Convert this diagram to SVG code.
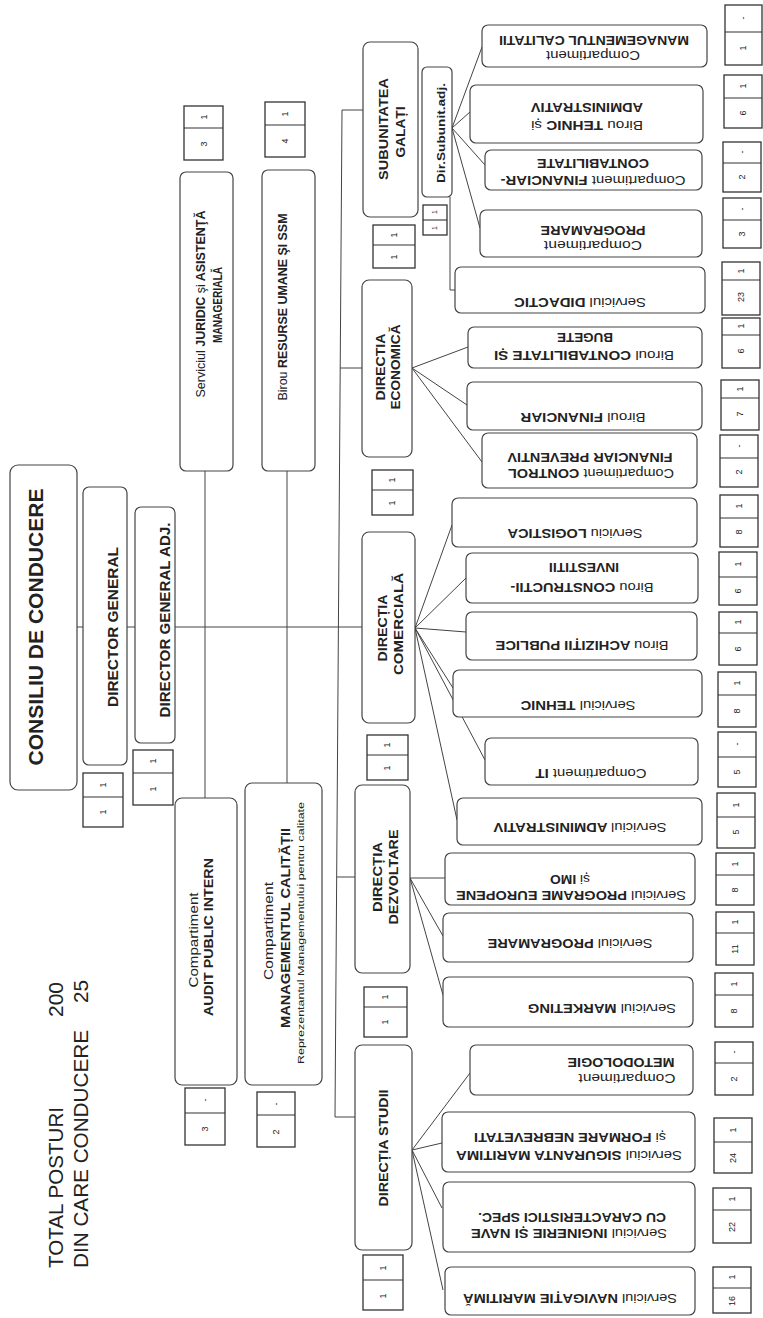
<svg xmlns="http://www.w3.org/2000/svg" width="763" height="1318" viewBox="0 0 763 1318">
<style>
.bx{fill:#fff;stroke:#444;stroke-width:1.2}
.cl{fill:#fff;stroke:#333;stroke-width:1.3}
.dv{stroke:#333;stroke-width:1.1}
.ln{stroke:#444;stroke-width:1;fill:none}
text{font-family:"Liberation Sans",Arial,sans-serif;fill:#222}
.rt{font-size:12px;font-weight:bold;text-anchor:middle}
.lt{font-size:12px;font-weight:bold;text-anchor:middle}
.n{font-weight:normal}
.num{font-size:9px;text-anchor:middle}
.big{font-size:21px;font-weight:bold;text-anchor:middle}
.tot{font-size:21px}
</style>
<rect width="763" height="1318" fill="#fff"/>

<g id="totals">
<text class="tot" transform="translate(63,1268) rotate(-90)" textLength="161" lengthAdjust="spacingAndGlyphs">TOTAL POSTURI</text>
<text class="tot" transform="translate(63,1017) rotate(-90)" textLength="35" lengthAdjust="spacingAndGlyphs">200</text>
<text class="tot" transform="translate(88,1268) rotate(-90)" textLength="238" lengthAdjust="spacingAndGlyphs">DIN CARE CONDUCERE</text>
<text class="tot" transform="translate(88,1003) rotate(-90)" textLength="23" lengthAdjust="spacingAndGlyphs">25</text>
</g>

<g id="connectors">
<line class="ln" x1="77" y1="627" x2="83" y2="627"/>
<line class="ln" x1="127" y1="627" x2="135" y2="627"/>
<line class="ln" x1="175" y1="627" x2="362" y2="627"/>
<line class="ln" x1="205" y1="471" x2="205" y2="798"/>
<line class="ln" x1="287" y1="471" x2="287" y2="783"/>
<line class="ln" x1="342" y1="110" x2="335" y2="1117"/>
<line class="ln" x1="342" y1="110" x2="363" y2="110"/>
<line class="ln" x1="340" y1="368" x2="362" y2="368"/>
<line class="ln" x1="337" y1="877" x2="355" y2="877"/>
<line class="ln" x1="335" y1="1117" x2="355" y2="1117"/>
<path class="ln" d="M452,128 L482,47 M452,128 L470,112 M452,128 L485,165 M452,128 L480,228"/>
<path class="ln" d="M450,197 L450,290 L455,290"/>
<path class="ln" d="M412,368 L468,347 M412,368 L467,405 M412,368 L482,462"/>
<path class="ln" d="M415,628 L452,525 M415,628 L466,578 M415,628 L466,632 M415,628 L453,688 M415,628 L485,760 M415,628 L457,820"/>
<path class="ln" d="M410,878 L445,878 M410,878 L443,936 M410,878 L443,995"/>
<path class="ln" d="M412,1150 L470,1073 M412,1150 L442,1143 M412,1150 L442,1208 M412,1150 L443,1290"/>
</g>

<g id="consiliu">
<rect class="bx" x="10" y="465" width="67" height="325" rx="8"/>
<text class="big" transform="translate(43,627) rotate(-90)" textLength="277" lengthAdjust="spacingAndGlyphs">CONSILIU DE CONDUCERE</text>
</g>
<g id="director-general">
<rect class="bx" x="83" y="487" width="44" height="278" rx="6"/>
<text class="lt" style="font-size:14px" transform="translate(118,627) rotate(-90)" textLength="160" lengthAdjust="spacingAndGlyphs">DIRECTOR GENERAL</text>
<rect class="cl" x="83" y="773" width="40" height="54"/><line class="dv" x1="83" y1="797" x2="123" y2="797"/>
<text class="num" transform="translate(106,785) rotate(-90)">1</text><text class="num" transform="translate(106,812) rotate(-90)">1</text>
</g>
<g id="director-general-adj">
<rect class="bx" x="135" y="507" width="40" height="236" rx="6"/>
<text class="lt" style="font-size:14px" transform="translate(170,620) rotate(-90)" textLength="195" lengthAdjust="spacingAndGlyphs">DIRECTOR GENERAL ADJ.</text>
<rect class="cl" x="133" y="750" width="40" height="55"/><line class="dv" x1="133" y1="773" x2="173" y2="773"/>
<text class="num" transform="translate(156,761) rotate(-90)">1</text><text class="num" transform="translate(156,789) rotate(-90)">1</text>
</g>

<g id="juridic">
<rect class="bx" x="180" y="172" width="53" height="299" rx="6"/>
<text class="lt" transform="translate(205,304) rotate(-90)" textLength="187" lengthAdjust="spacingAndGlyphs"><tspan class="n">Serviciul</tspan>  JURIDIC <tspan class="n">şi</tspan> ASISTENŢĂ</text>
<text class="lt" transform="translate(222,305) rotate(-90)" textLength="76" lengthAdjust="spacingAndGlyphs">MANAGERIALĂ</text>
<rect class="cl" x="184" y="106" width="39" height="54"/><line class="dv" x1="184" y1="128" x2="223" y2="128"/>
<text class="num" transform="translate(207,117) rotate(-90)">1</text><text class="num" transform="translate(207,144) rotate(-90)">3</text>
</g>
<g id="resurse-umane">
<rect class="bx" x="262" y="170" width="53" height="301" rx="6"/>
<text class="lt" transform="translate(287,307) rotate(-90)" textLength="187" lengthAdjust="spacingAndGlyphs"><tspan class="n">Birou</tspan> RESURSE UMANE ŞI SSM</text>
<rect class="cl" x="265" y="102" width="40" height="55"/><line class="dv" x1="265" y1="125" x2="305" y2="125"/>
<text class="num" transform="translate(288,114) rotate(-90)">1</text><text class="num" transform="translate(288,141) rotate(-90)">4</text>
</g>
<g id="audit">
<rect class="bx" x="175" y="798" width="62" height="287" rx="7"/>
<text class="lt n" transform="translate(198,940) rotate(-90)" textLength="95" lengthAdjust="spacingAndGlyphs">Compartiment</text>
<text class="lt" transform="translate(213,937) rotate(-90)" textLength="158" lengthAdjust="spacingAndGlyphs">AUDIT PUBLIC INTERN</text>
<rect class="cl" x="185" y="1088" width="40" height="57"/><line class="dv" x1="185" y1="1113" x2="225" y2="1113"/>
<text class="num" transform="translate(208,1100) rotate(-90)">-</text><text class="num" transform="translate(208,1129) rotate(-90)">3</text>
</g>
<g id="management-calitate">
<rect class="bx" x="245" y="783" width="77" height="302" rx="7"/>
<text class="lt n" transform="translate(273,931) rotate(-90)" textLength="98" lengthAdjust="spacingAndGlyphs">Compartiment</text>
<text class="lt" transform="translate(290,928) rotate(-90)" textLength="200" lengthAdjust="spacingAndGlyphs">MANAGEMENTUL CALITĂȚII</text>
<text class="lt n" style="font-size:9px" transform="translate(304,933) rotate(-90)" textLength="262" lengthAdjust="spacingAndGlyphs">Reprezentantul Managementului pentru calitate</text>
<rect class="cl" x="257" y="1092" width="38" height="55"/><line class="dv" x1="257" y1="1115" x2="295" y2="1115"/>
<text class="num" transform="translate(279,1104) rotate(-90)">-</text><text class="num" transform="translate(279,1132) rotate(-90)">2</text>
</g>

<g id="subunitatea-galati">
<rect class="bx" x="363" y="42" width="55" height="175" rx="7"/>
<text class="lt" transform="translate(388,129) rotate(-90)" textLength="102" lengthAdjust="spacingAndGlyphs">SUBUNITATEA</text>
<text class="lt" transform="translate(405,132) rotate(-90)" textLength="51" lengthAdjust="spacingAndGlyphs">GALAȚI</text>
<rect class="cl" x="373" y="225" width="42" height="43"/><line class="dv" x1="373" y1="245" x2="415" y2="245"/>
<text class="num" transform="translate(397,235) rotate(-90)">1</text><text class="num" transform="translate(397,257) rotate(-90)">1</text>
</g>
<g id="dir-subunit-adj">
<rect class="bx" x="422" y="67" width="30" height="130" rx="5"/>
<text class="lt" style="font-size:10px" transform="translate(445,133) rotate(-90)" textLength="100" lengthAdjust="spacingAndGlyphs">Dir.Subunit.adj.</text>
<rect class="cl" x="423" y="205" width="24" height="30"/><line class="dv" x1="423" y1="220" x2="447" y2="220"/>
<text class="num" style="font-size:7px" transform="translate(437,212) rotate(-90)">1</text><text class="num" style="font-size:7px" transform="translate(437,228) rotate(-90)">1</text>
</g>
<g id="directia-economica">
<rect class="bx" x="362" y="280" width="50" height="177" rx="7"/>
<text class="lt" transform="translate(385,367) rotate(-90)" textLength="67" lengthAdjust="spacingAndGlyphs">DIRECTIA</text>
<text class="lt" transform="translate(400,367) rotate(-90)" textLength="85" lengthAdjust="spacingAndGlyphs">ECONOMICĂ</text>
<rect class="cl" x="372" y="470" width="41" height="45"/><line class="dv" x1="372" y1="490" x2="413" y2="490"/>
<text class="num" transform="translate(395,480) rotate(-90)">1</text><text class="num" transform="translate(395,503) rotate(-90)">1</text>
</g>
<g id="directia-comerciala">
<rect class="bx" x="362" y="532" width="53" height="191" rx="7"/>
<text class="lt" transform="translate(387,628) rotate(-90)" textLength="67" lengthAdjust="spacingAndGlyphs">DIRECȚIA</text>
<text class="lt" transform="translate(403,624) rotate(-90)" textLength="102" lengthAdjust="spacingAndGlyphs">COMERCIALĂ</text>
<rect class="cl" x="367" y="735" width="41" height="45"/><line class="dv" x1="367" y1="755" x2="408" y2="755"/>
<text class="num" transform="translate(390,745) rotate(-90)">1</text><text class="num" transform="translate(390,768) rotate(-90)">1</text>
</g>
<g id="directia-dezvoltare">
<rect class="bx" x="355" y="785" width="55" height="188" rx="7"/>
<text class="lt" transform="translate(382,877) rotate(-90)" textLength="70" lengthAdjust="spacingAndGlyphs">DIRECȚIA</text>
<text class="lt" transform="translate(398,877) rotate(-90)" textLength="95" lengthAdjust="spacingAndGlyphs">DEZVOLTARE</text>
<rect class="cl" x="364" y="987" width="43" height="50"/><line class="dv" x1="364" y1="1007" x2="407" y2="1007"/>
<text class="num" transform="translate(388,997) rotate(-90)">1</text><text class="num" transform="translate(388,1022) rotate(-90)">1</text>
</g>
<g id="directia-studii">
<rect class="bx" x="355" y="1045" width="57" height="205" rx="7"/>
<text class="lt" transform="translate(388,1148) rotate(-90)" textLength="117" lengthAdjust="spacingAndGlyphs">DIRECȚIA STUDII</text>
<rect class="cl" x="363" y="1255" width="40" height="55"/><line class="dv" x1="363" y1="1280" x2="403" y2="1280"/>
<text class="num" transform="translate(386,1268) rotate(-90)">1</text><text class="num" transform="translate(386,1296) rotate(-90)">1</text>
</g>

<g id="r-management-calitatii">
<rect class="bx" x="482" y="25" width="225" height="42" rx="6"/>
<text class="rt n" transform="translate(593,50.5) rotate(180)" textLength="94" lengthAdjust="spacingAndGlyphs">Compartiment</text>
<text class="rt" transform="translate(594,35.5) rotate(180)" textLength="190" lengthAdjust="spacingAndGlyphs">MANAGEMENTUL CALITATII</text>
</g>
<g id="r-tehnic-administrativ">
<rect class="bx" x="470" y="85" width="233" height="58" rx="6"/>
<text class="rt" transform="translate(587,120.5) rotate(180)" textLength="112" lengthAdjust="spacingAndGlyphs"><tspan class="n">Birou</tspan> TEHNIC  <tspan class="n">și</tspan></text>
<text class="rt" transform="translate(587,102.5) rotate(180)" textLength="112" lengthAdjust="spacingAndGlyphs">ADMINISTRATIV</text>
</g>
<g id="r-financiar-contabilitate">
<rect class="bx" x="485" y="150" width="217" height="40" rx="6"/>
<text class="rt" transform="translate(593,175.5) rotate(180)" textLength="185" lengthAdjust="spacingAndGlyphs"><tspan class="n">Compartiment</tspan> FINANCIAR-</text>
<text class="rt" transform="translate(593,158.5) rotate(180)" textLength="112" lengthAdjust="spacingAndGlyphs">CONTABILITATE</text>
</g>
<g id="r-comp-programare">
<rect class="bx" x="480" y="210" width="222" height="47" rx="6"/>
<text class="rt n" transform="translate(593,240.5) rotate(180)" textLength="98" lengthAdjust="spacingAndGlyphs">Compartiment</text>
<text class="rt" transform="translate(593,225.5) rotate(180)" textLength="105" lengthAdjust="spacingAndGlyphs">PROGRAMARE</text>
</g>
<g id="r-didactic">
<rect class="bx" x="455" y="267" width="250" height="46" rx="6"/>
<text class="rt" transform="translate(580,297.5) rotate(180)" textLength="132" lengthAdjust="spacingAndGlyphs"><tspan class="n">Serviciul</tspan> DIDACTIC</text>
</g>
<g id="r-contabilitate-bugete">
<rect class="bx" x="468" y="327" width="234" height="41" rx="6"/>
<text class="rt" transform="translate(584,350.5) rotate(180)" textLength="180" lengthAdjust="spacingAndGlyphs"><tspan class="n">Biroul</tspan> CONTABILITATE ȘI</text>
<text class="rt" transform="translate(585,332.5) rotate(180)" textLength="56" lengthAdjust="spacingAndGlyphs">BUGETE</text>
</g>
<g id="r-financiar">
<rect class="bx" x="467" y="382" width="235" height="48" rx="6"/>
<text class="rt" transform="translate(583,412.5) rotate(180)" textLength="125" lengthAdjust="spacingAndGlyphs"><tspan class="n">Biroul</tspan>  FINANCIAR</text>
</g>
<g id="r-control-financiar">
<rect class="bx" x="482" y="433" width="215" height="55" rx="6"/>
<text class="rt" transform="translate(591,468.5) rotate(180)" textLength="166" lengthAdjust="spacingAndGlyphs"><tspan class="n">Compartiment</tspan> CONTROL</text>
<text class="rt" transform="translate(590,452.5) rotate(180)" textLength="165" lengthAdjust="spacingAndGlyphs">FINANCIAR PREVENTIV</text>
</g>
<g id="r-logistica">
<rect class="bx" x="452" y="498" width="245" height="49" rx="6"/>
<text class="rt" transform="translate(575,528.5) rotate(180)" textLength="135" lengthAdjust="spacingAndGlyphs"><tspan class="n">Serviciu</tspan> LOGISTICA</text>
</g>
<g id="r-constructii">
<rect class="bx" x="466" y="553" width="232" height="50" rx="6"/>
<text class="rt" transform="translate(582,582.5) rotate(180)" textLength="143" lengthAdjust="spacingAndGlyphs"><tspan class="n">Birou</tspan> CONSTRUCTII-</text>
<text class="rt" transform="translate(584,562.5) rotate(180)" textLength="70" lengthAdjust="spacingAndGlyphs">INVESTITII</text>
</g>
<g id="r-achizitii">
<rect class="bx" x="466" y="612" width="231" height="48" rx="6"/>
<text class="rt" transform="translate(582,640.5) rotate(180)" textLength="173" lengthAdjust="spacingAndGlyphs"><tspan class="n">Birou</tspan>  ACHIZIȚII PUBLICE</text>
</g>
<g id="r-tehnic">
<rect class="bx" x="453" y="670" width="249" height="47" rx="6"/>
<text class="rt" transform="translate(578,700.5) rotate(180)" textLength="115" lengthAdjust="spacingAndGlyphs"><tspan class="n">Serviciul</tspan> TEHNIC</text>
</g>
<g id="r-it">
<rect class="bx" x="485" y="738" width="213" height="47" rx="6"/>
<text class="rt" transform="translate(591,768.5) rotate(180)" textLength="111" lengthAdjust="spacingAndGlyphs"><tspan class="n">Compartiment</tspan> IT</text>
</g>
<g id="r-administrativ">
<rect class="bx" x="457" y="798" width="245" height="47" rx="6"/>
<text class="rt" transform="translate(580,822.5) rotate(180)" textLength="173" lengthAdjust="spacingAndGlyphs"><tspan class="n">Serviciul</tspan> ADMINISTRATIV</text>
</g>
<g id="r-programe-europene">
<rect class="bx" x="445" y="853" width="250" height="52" rx="6"/>
<text class="rt" transform="translate(571,890.5) rotate(180)" textLength="230" lengthAdjust="spacingAndGlyphs"><tspan class="n">Serviciul</tspan> PROGRAME EUROPENE</text>
<text class="rt" transform="translate(570,874.5) rotate(180)" textLength="40" lengthAdjust="spacingAndGlyphs"><tspan class="n">și</tspan> IMO</text>
</g>
<g id="r-programare">
<rect class="bx" x="443" y="913" width="250" height="49" rx="6"/>
<text class="rt" transform="translate(570,938.5) rotate(180)" textLength="165" lengthAdjust="spacingAndGlyphs"><tspan class="n">Serviciul</tspan> PROGRAMARE</text>
</g>
<g id="r-marketing">
<rect class="bx" x="443" y="977" width="250" height="50" rx="6"/>
<text class="rt" transform="translate(602,1003.5) rotate(180)" textLength="148" lengthAdjust="spacingAndGlyphs"><tspan class="n">Serviciul</tspan> MARKETING</text>
</g>
<g id="r-metodologie">
<rect class="bx" x="470" y="1045" width="223" height="50" rx="6"/>
<text class="rt n" transform="translate(627,1073.5) rotate(180)" textLength="97" lengthAdjust="spacingAndGlyphs">Compartiment</text>
<text class="rt" transform="translate(621,1057.5) rotate(180)" textLength="107" lengthAdjust="spacingAndGlyphs">METODOLOGIE</text>
</g>
<g id="r-siguranta-maritima">
<rect class="bx" x="442" y="1112" width="253" height="60" rx="6"/>
<text class="rt" transform="translate(569,1150.5) rotate(180)" textLength="226" lengthAdjust="spacingAndGlyphs"><tspan class="n">Serviciul</tspan>  SIGURANTA MARITIMA</text>
<text class="rt" transform="translate(570,1132.5) rotate(180)" textLength="192" lengthAdjust="spacingAndGlyphs"><tspan class="n">și</tspan> FORMARE NEBREVETATI</text>
</g>
<g id="r-inginerie-nave">
<rect class="bx" x="443" y="1182" width="252" height="70" rx="6"/>
<text class="rt" transform="translate(569,1228.5) rotate(180)" textLength="196" lengthAdjust="spacingAndGlyphs"><tspan class="n">Serviciul</tspan> INGINERIE ȘI NAVE</text>
<text class="rt" transform="translate(572,1212.5) rotate(180)" textLength="188" lengthAdjust="spacingAndGlyphs">CU CARACTERISTICI SPEC.</text>
</g>
<g id="r-navigatie">
<rect class="bx" x="445" y="1267" width="250" height="48" rx="6"/>
<text class="rt" transform="translate(570,1293.5) rotate(180)" textLength="214" lengthAdjust="spacingAndGlyphs"><tspan class="n">Serviciul</tspan> NAVIGAȚIE MARITIMĂ</text>
</g>

<g id="posturi-cells">
<rect class="cl" x="725" y="5" width="37" height="60"/><line class="dv" x1="725" y1="32" x2="762" y2="32"/><text class="num" transform="translate(746,18) rotate(-90)">-</text><text class="num" transform="translate(746,48) rotate(-90)">1</text>
<rect class="cl" x="724" y="75" width="38" height="53"/><line class="dv" x1="724" y1="98" x2="762" y2="98"/><text class="num" transform="translate(746,86) rotate(-90)">1</text><text class="num" transform="translate(746,113) rotate(-90)">6</text>
<rect class="cl" x="723" y="142" width="38" height="50"/><line class="dv" x1="723" y1="163" x2="761" y2="163"/><text class="num" transform="translate(745,152) rotate(-90)">-</text><text class="num" transform="translate(745,177) rotate(-90)">2</text>
<rect class="cl" x="723" y="198" width="38" height="50"/><line class="dv" x1="723" y1="220" x2="761" y2="220"/><text class="num" transform="translate(745,209) rotate(-90)">-</text><text class="num" transform="translate(745,234) rotate(-90)">3</text>
<rect class="cl" x="722" y="262" width="38" height="53"/><line class="dv" x1="722" y1="280" x2="760" y2="280"/><text class="num" transform="translate(744,271) rotate(-90)">1</text><text class="num" transform="translate(744,297) rotate(-90)">23</text>
<rect class="cl" x="722" y="318" width="38" height="50"/><line class="dv" x1="722" y1="335" x2="760" y2="335"/><text class="num" transform="translate(744,326) rotate(-90)">1</text><text class="num" transform="translate(744,351) rotate(-90)">6</text>
<rect class="cl" x="721" y="380" width="38" height="50"/><line class="dv" x1="721" y1="398" x2="759" y2="398"/><text class="num" transform="translate(743,389) rotate(-90)">1</text><text class="num" transform="translate(743,414) rotate(-90)">7</text>
<rect class="cl" x="720" y="435" width="38" height="52"/><line class="dv" x1="720" y1="458" x2="758" y2="458"/><text class="num" transform="translate(742,446) rotate(-90)">-</text><text class="num" transform="translate(742,472) rotate(-90)">2</text>
<rect class="cl" x="720" y="495" width="38" height="52"/><line class="dv" x1="720" y1="518" x2="758" y2="518"/><text class="num" transform="translate(742,506) rotate(-90)">1</text><text class="num" transform="translate(742,532) rotate(-90)">8</text>
<rect class="cl" x="719" y="552" width="38" height="53"/><line class="dv" x1="719" y1="577" x2="757" y2="577"/><text class="num" transform="translate(741,564) rotate(-90)">1</text><text class="num" transform="translate(741,591) rotate(-90)">6</text>
<rect class="cl" x="719" y="612" width="38" height="53"/><line class="dv" x1="719" y1="633" x2="757" y2="633"/><text class="num" transform="translate(741,622) rotate(-90)">1</text><text class="num" transform="translate(741,649) rotate(-90)">6</text>
<rect class="cl" x="718" y="672" width="38" height="55"/><line class="dv" x1="718" y1="695" x2="756" y2="695"/><text class="num" transform="translate(740,683) rotate(-90)">1</text><text class="num" transform="translate(740,711) rotate(-90)">8</text>
<rect class="cl" x="718" y="732" width="38" height="55"/><line class="dv" x1="718" y1="757" x2="756" y2="757"/><text class="num" transform="translate(740,744) rotate(-90)">-</text><text class="num" transform="translate(740,772) rotate(-90)">5</text>
<rect class="cl" x="717" y="793" width="38" height="55"/><line class="dv" x1="717" y1="817" x2="755" y2="817"/><text class="num" transform="translate(739,805) rotate(-90)">1</text><text class="num" transform="translate(739,832) rotate(-90)">5</text>
<rect class="cl" x="716" y="853" width="38" height="52"/><line class="dv" x1="716" y1="875" x2="754" y2="875"/><text class="num" transform="translate(738,864) rotate(-90)">1</text><text class="num" transform="translate(738,890) rotate(-90)">8</text>
<rect class="cl" x="716" y="912" width="38" height="53"/><line class="dv" x1="716" y1="933" x2="754" y2="933"/><text class="num" transform="translate(738,922) rotate(-90)">1</text><text class="num" transform="translate(738,949) rotate(-90)">11</text>
<rect class="cl" x="715" y="973" width="38" height="54"/><line class="dv" x1="715" y1="995" x2="753" y2="995"/><text class="num" transform="translate(737,984) rotate(-90)">1</text><text class="num" transform="translate(737,1011) rotate(-90)">8</text>
<rect class="cl" x="715" y="1042" width="38" height="53"/><line class="dv" x1="715" y1="1063" x2="753" y2="1063"/><text class="num" transform="translate(737,1052) rotate(-90)">-</text><text class="num" transform="translate(737,1079) rotate(-90)">2</text>
<rect class="cl" x="714" y="1118" width="38" height="55"/><line class="dv" x1="714" y1="1142" x2="752" y2="1142"/><text class="num" transform="translate(736,1130) rotate(-90)">1</text><text class="num" transform="translate(736,1158) rotate(-90)">24</text>
<rect class="cl" x="713" y="1188" width="38" height="55"/><line class="dv" x1="713" y1="1210" x2="751" y2="1210"/><text class="num" transform="translate(735,1199) rotate(-90)">1</text><text class="num" transform="translate(735,1227) rotate(-90)">22</text>
<rect class="cl" x="713" y="1267" width="38" height="46"/><line class="dv" x1="713" y1="1288" x2="751" y2="1288"/><text class="num" transform="translate(735,1277) rotate(-90)">1</text><text class="num" transform="translate(735,1301) rotate(-90)">16</text>
</g>
</svg>
